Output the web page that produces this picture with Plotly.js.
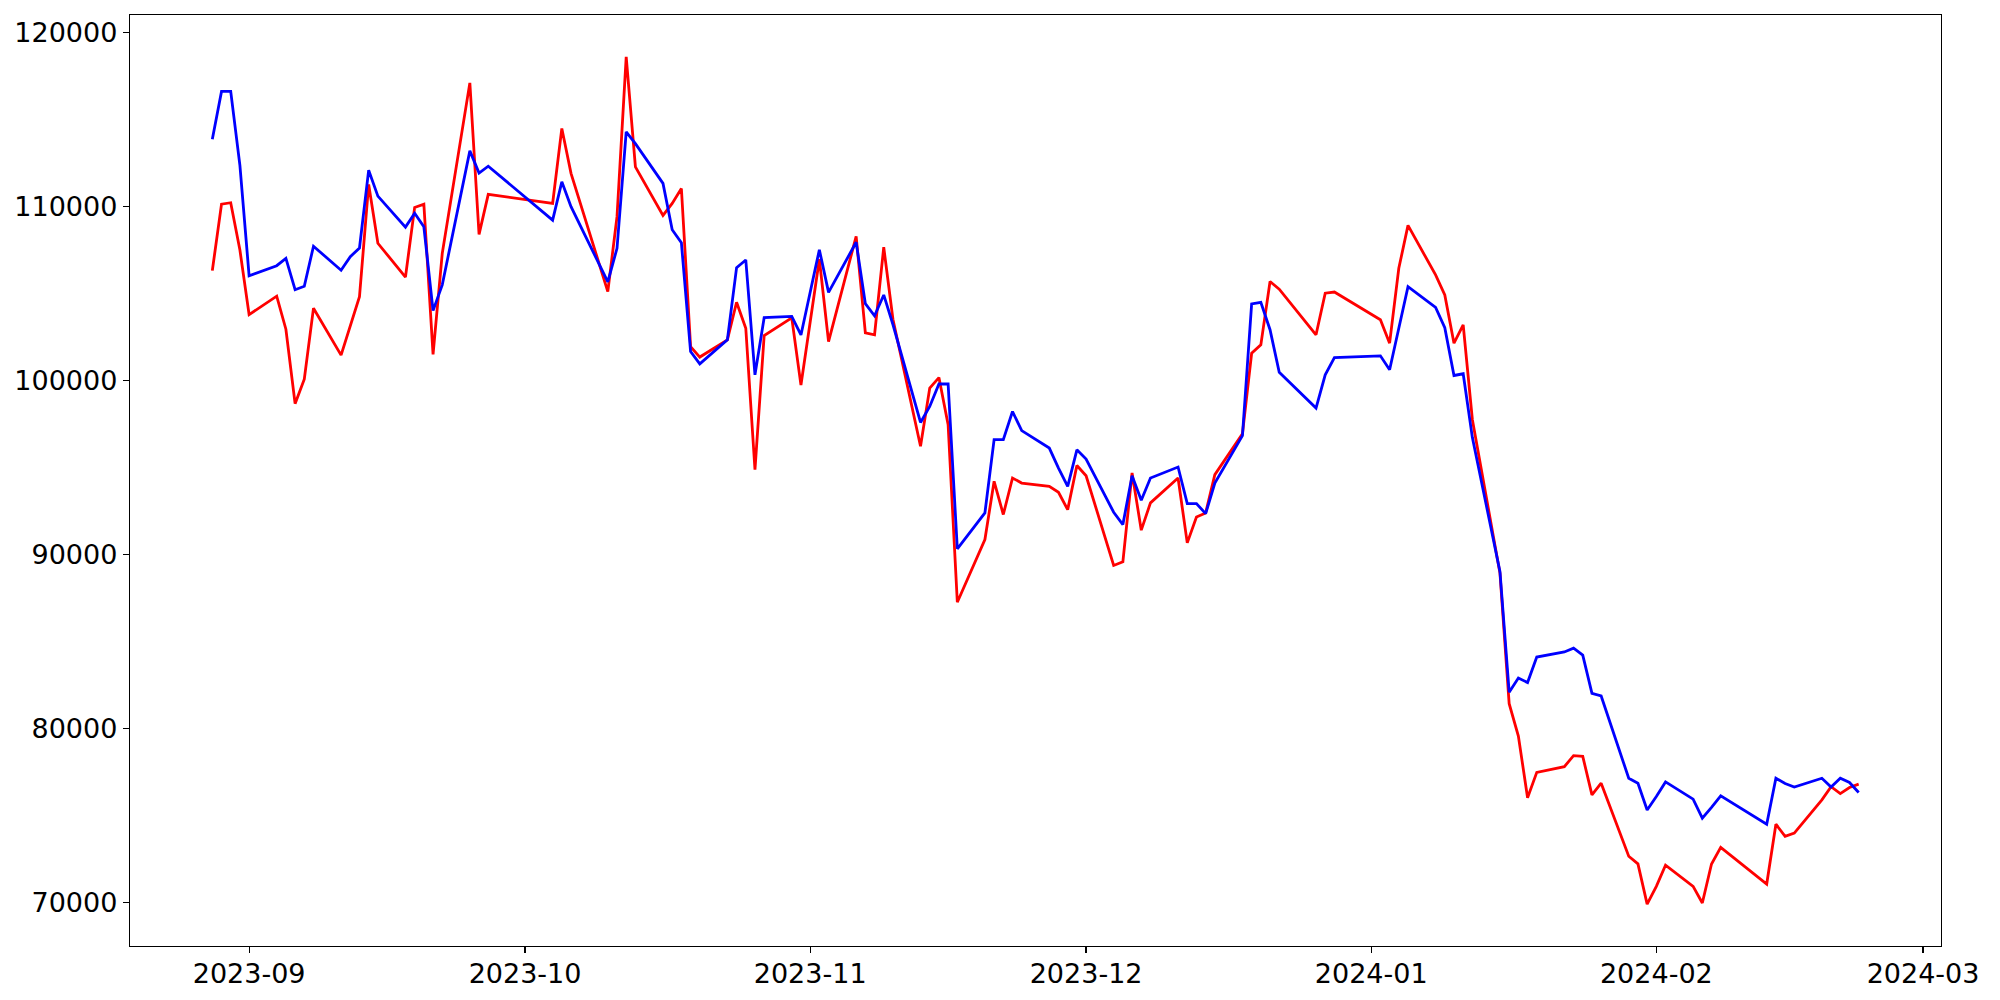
<!DOCTYPE html>
<html>
<head>
<meta charset="utf-8">
<script src="https://cdn.plot.ly/plotly-3.0.1.min.js"></script>
<style>html,body{margin:0;padding:0;background:#fff;}#chart{width:2000px;height:1000px;}</style>
</head>
<body>
<div id="chart"></div>
<script>
const dates = [
"2023-08-28","2023-08-29","2023-08-30","2023-08-31","2023-09-01",
"2023-09-04","2023-09-05","2023-09-06","2023-09-07","2023-09-08",
"2023-09-11","2023-09-12","2023-09-13","2023-09-14","2023-09-15",
"2023-09-18","2023-09-19","2023-09-20","2023-09-21","2023-09-22",
"2023-09-25","2023-09-26","2023-09-27",
"2023-10-04","2023-10-05","2023-10-06",
"2023-10-10","2023-10-11","2023-10-12","2023-10-13",
"2023-10-16","2023-10-17","2023-10-18","2023-10-19","2023-10-20",
"2023-10-23","2023-10-24","2023-10-25","2023-10-26","2023-10-27",
"2023-10-30","2023-10-31","2023-11-02","2023-11-03",
"2023-11-06","2023-11-07","2023-11-08","2023-11-09","2023-11-10",
"2023-11-13","2023-11-14","2023-11-15","2023-11-16","2023-11-17",
"2023-11-20","2023-11-21","2023-11-22","2023-11-23","2023-11-24",
"2023-11-27","2023-11-28","2023-11-29","2023-11-30","2023-12-01",
"2023-12-04","2023-12-05","2023-12-06","2023-12-07","2023-12-08",
"2023-12-11","2023-12-12","2023-12-13","2023-12-14","2023-12-15",
"2023-12-18","2023-12-19","2023-12-20","2023-12-21","2023-12-22",
"2023-12-26","2023-12-27","2023-12-28",
"2024-01-02","2024-01-03","2024-01-04","2024-01-05",
"2024-01-08","2024-01-09","2024-01-10","2024-01-11","2024-01-12",
"2024-01-15","2024-01-16","2024-01-17","2024-01-18","2024-01-19",
"2024-01-22","2024-01-23","2024-01-24","2024-01-25","2024-01-26",
"2024-01-29","2024-01-30","2024-01-31","2024-02-01","2024-02-02",
"2024-02-05","2024-02-06","2024-02-07","2024-02-08",
"2024-02-13","2024-02-14","2024-02-15","2024-02-16",
"2024-02-19","2024-02-20","2024-02-21","2024-02-22","2024-02-23"
];

const redValues = [
106300,110120,110200,107480,103770,
104830,102930,98650,100060,104140,
101440,103080,104800,111250,107870,
105930,109930,110120,101480,107290,
117090,108380,110680,
110160,114470,111890,
105090,109400,118580,112260,
109470,110160,111020,101930,101330,
102320,104480,102990,94860,102570,
103580,99720,106950,102220,
108270,102720,102610,107640,103500,
96200,99550,100150,97440,87240,
90840,94190,92280,94380,94090,
93900,93560,92560,95100,94510,
89350,89560,94670,91380,92950,
94380,90650,92140,92370,94570,
96920,101550,102030,105670,105230,
102610,105000,105070,
103470,102130,106430,108900,
106050,104900,102130,103180,97730,
88900,81410,79550,76000,77460,
77790,78420,78380,76170,76840,
72640,72200,69890,70910,72130,
70910,69950,72190,73150,
71040,74480,73780,73970,
75880,76640,76240,76590,76780
];

const blueValues = [
113850,116600,116600,112350,106000,
106580,107000,105200,105400,107700,
106320,107100,107600,112070,110580,
108800,109600,108820,104000,105480,
113180,111900,112300,
109200,111400,109970,
105650,107580,114270,113600,
111310,108650,107900,101650,100940,
102320,106470,106910,100310,103600,
103670,102600,107500,105050,
107930,104400,103700,104900,103200,
97570,98490,99780,99780,90310,
92370,96580,96580,98200,97100,
96100,94950,93900,96000,95470,
92410,91700,94510,93100,94380,
95010,92910,92910,92330,94090,
96810,104380,104480,102900,100460,
98400,100310,101300,
101400,100600,102990,105380,
104190,103020,100270,100370,96700,
88990,82070,82880,82620,84090,
84380,84600,84200,82000,81850,
77120,76830,75300,76070,76910,
75920,74830,75450,76110,
74480,77120,76820,76620,
77120,76620,77120,76880,76300
];

const yTicks = [70000, 80000, 90000, 100000, 110000, 120000];

const traces = [
  {x: dates, y: redValues, type: 'scatter', mode: 'lines',
   line: {color: '#ff0000', width: 2.8}, showlegend: false, hoverinfo: 'x+y'},
  {x: dates, y: blueValues, type: 'scatter', mode: 'lines',
   line: {color: '#0000ff', width: 2.8}, showlegend: false, hoverinfo: 'x+y'}
];

const axisFont = {family: 'DejaVu Sans, sans-serif', size: 27, color: '#000'};

const layout = {
  width: 2000, height: 1000,
  margin: {l: 130, r: 59, t: 15, b: 54, pad: 0},
  paper_bgcolor: '#fff', plot_bgcolor: '#fff',
  showlegend: false,
  xaxis: {
    type: 'date',
    range: ['2023-08-19 01:12', '2024-03-02 22:48'],
    tick0: '2023-09-01', dtick: 'M1', tickformat: '%Y-%m',
    showgrid: false, zeroline: false,
    showline: true, mirror: true, linecolor: '#000', linewidth: 1.2,
    ticks: 'outside', ticklen: 6, tickwidth: 1.2, tickcolor: '#000',
    ticklabelstandoff: -3,
    tickfont: axisFont
  },
  yaxis: {
    range: [67480, 120990],
    tickmode: 'array', tickvals: yTicks, ticktext: yTicks.map(String),
    showgrid: false, zeroline: false,
    showline: true, mirror: true, linecolor: '#000', linewidth: 1.2,
    ticks: 'outside', ticklen: 6, tickwidth: 1.2, tickcolor: '#000',
    tickfont: axisFont
  }
};

Plotly.newPlot('chart', traces, layout, {displayModeBar: false, staticPlot: true});
</script>
</body>
</html>
